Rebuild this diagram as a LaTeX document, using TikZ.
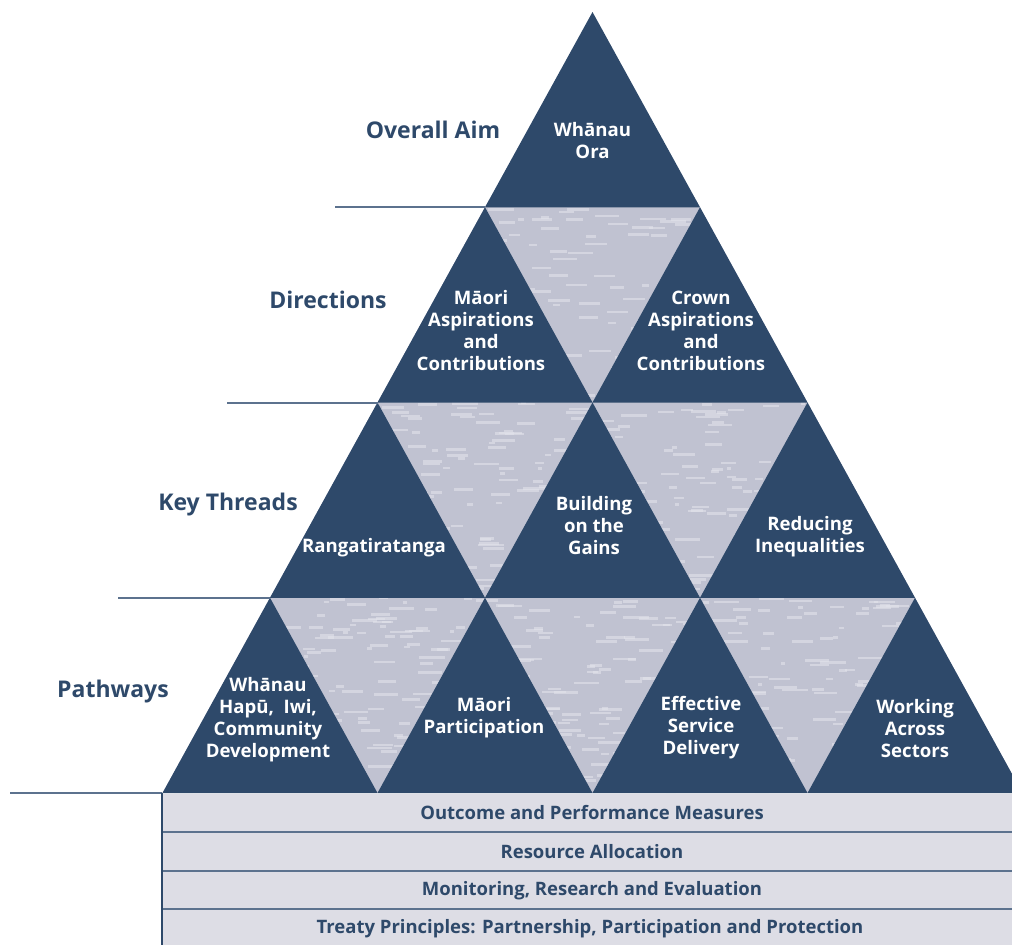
\documentclass[tikz,border=0pt]{standalone}
\usepackage{fontspec}
\setmainfont{Open Sans}
\definecolor{navy}{RGB}{46,73,106}
\definecolor{bartint}{RGB}{221,221,229}
\definecolor{rulegray}{RGB}{92,114,142}
\definecolor{weave}{RGB}{192,194,209}
\definecolor{weavelite}{RGB}{226,227,235}
\begin{document}
\begin{tikzpicture}[x=1pt,y=-1pt,
  up/.style={fill=navy},
  inner/.style={text=white,font=\bfseries\fontsize{18.6}{22}\selectfont,align=center,inner sep=0pt},
  tier/.style={text=navy,font=\bfseries\fontsize{23}{28}\selectfont,inner sep=0pt},
  barlabel/.style={text=navy,font=\bfseries\fontsize{18.5}{20}\selectfont,inner sep=0pt},
  rule/.style={rulegray,line width=1.5pt}]
\useasboundingbox (0,0) rectangle (1012,945);
\clip (0,0) rectangle (1012,945);
\def\ha{107.5}
\def\hh{195.25}

% 下地の織り模様
\begin{scope}
\clip (592.5,12) -- (1022.5,793) -- (162.5,793) -- cycle;
\fill[weave] (150,200) rectangle (1030,800);
\pgfmathsetseed{17}
\foreach \i in {1,...,1400}{
  \pgfmathsetmacro\sx{150+rnd*880}
  \pgfmathsetmacro\sy{205+rnd*590}
  \pgfmathsetmacro\sl{4+rnd*22}
  \fill[weavelite,opacity=0.6] (\sx,\sy) rectangle ++(\sl,2.6);
}
\end{scope}

% 三角形
\foreach \k in {0,...,3}{
  \foreach \j in {0,...,\k}{
    \fill[up] ({592.5+(2*\j-\k)*\ha},{12+\k*\hh}) -- ++(\ha,\hh) -- ++(-2*\ha,0) -- cycle;
  }
}

% 段の区切り線
\draw[rule] (335,207) -- (485,207);
\draw[rule] (227,403) -- (378,403);
\draw[rule] (118,598) -- (270,598);
\draw[rule] (10,793) -- (162,793);

\node[tier] (aim) at (433,130) {Overall Aim};
\node[tier] (directions) at (328,300) {Directions};
\node[tier] (threads) at (228,505) {Key Threads};
\node[tier] (pathways) at (113,692) {Pathways};

% 三角形の中
\node[inner] (ora) at (592.5,141) {Whānau\\Ora};
\node[inner] (maori) at (481,331) {Māori\\Aspirations\\and\\Contributions};
\node[inner] (crown) at (701,331) {Crown\\Aspirations\\and\\Contributions};
\node[inner] (ranga) at (374,548) {Rangatiratanga};
\node[inner] (gains) at (594,526) {Building\\on the\\Gains};
\node[inner] (reduce) at (810,537) {Reducing\\Inequalities};
\node[inner] (whanau) at (268,720) {Whānau\\Hapū,~ Iwi,\\Community\\Development};
\node[inner] (particip) at (484,718) {Māori\\Participation};
\node[inner] (service) at (701,728) {Effective\\Service\\Delivery};
\node[inner] (sectors) at (915,729) {Working\\Across\\Sectors};

% 土台
\fill[bartint] (162,794) rectangle (1022,945);
\draw[rule] (162,832) -- (1022,832);
\draw[rule] (162,871) -- (1022,871);
\draw[rule] (162,909) -- (1022,909);
\draw[navy,line width=2pt] (162,793) -- (162,945);
\node[barlabel] (measures) at (592,813) {Outcome and Performance Measures};
\node[barlabel] (resource) at (592,852) {Resource Allocation};
\node[barlabel] (monitor) at (592,891) {Monitoring, Research and Evaluation};
\node[barlabel] (treaty) at (590,929) {Treaty Principles: Partnership, Participation and Protection};
\end{tikzpicture}
\end{document}
